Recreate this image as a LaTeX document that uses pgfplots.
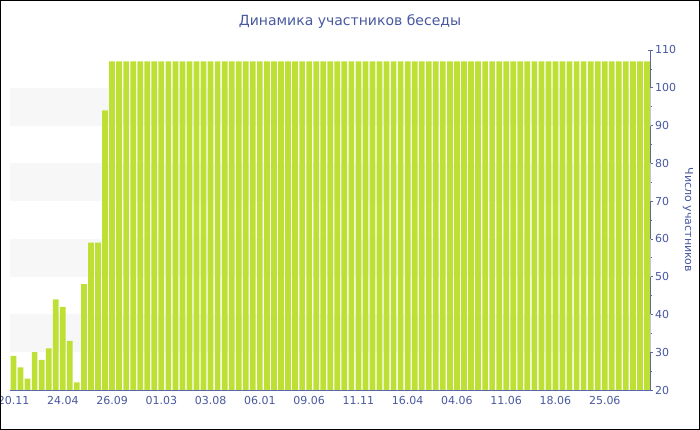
\documentclass[border=0pt]{standalone}
\usepackage{fontspec}
\setmainfont{DejaVu Sans}
\usepackage{pgfplots}
\usepackage{pgfplotstable}
\pgfplotsset{compat=1.18}
\definecolor{txt}{RGB}{72,88,160}
\definecolor{axc}{RGB}{88,104,170}
\definecolor{barc}{RGB}{190,224,52}
\definecolor{band}{RGB}{247,247,247}
\pgfplotstableread{
y
29
26
23
30
28
31
44
42
33
22
48
59
59
94
107
107
107
107
107
107
107
107
107
107
107
107
107
107
107
107
107
107
107
107
107
107
107
107
107
107
107
107
107
107
107
107
107
107
107
107
107
107
107
107
107
107
107
107
107
107
107
107
107
107
107
107
107
107
107
107
107
107
107
107
107
107
107
107
107
107
107
107
107
107
107
107
107
107
107
107
107
}\datatable
\begin{document}
\begin{tikzpicture}[x=1pt,y=1pt]
\useasboundingbox (0,0) rectangle (700,430);
\begin{axis}[
 at={(10pt,40pt)}, anchor=south west,
 scale only axis, width=640.5pt, height=340pt,
 xmin=-0.5, xmax=90.5, ymin=20, ymax=110,
 axis x line*=bottom, axis y line*=right,
 axis line style={draw=axc, line width=0.8pt, -},
 xtick={0,7,...,84},
 xticklabels={20.11,24.04,26.09,01.03,03.08,06.01,09.06,11.11,16.04,04.06,11.06,18.06,25.06},
 ytick={20,30,...,110},
 minor ytick={25,35,...,105},
 tick style={draw=axc, line width=0.6pt},
 x tick style={/pgfplots/major tick length=3pt},
 y tick style={/pgfplots/major tick length=5pt},
 minor tick length=3pt,
 tick align=center,
 ticklabel style={text=txt, font=\fontsize{11}{13}\selectfont},
 /pgf/number format/assume math mode=true,
 xticklabel style={yshift=-1pt},
 yticklabel style={xshift=-1pt},
 ylabel={Число участников},
 ylabel style={at={(axis description cs:1.0585,0.5)}, anchor=center, rotate=180, text=txt, font=\fontsize{11}{13}\selectfont},
 clip=true,
]
\fill[band] (axis cs:-0.5,90) rectangle (axis cs:90.5,100);
\fill[band] (axis cs:-0.5,70) rectangle (axis cs:90.5,80);
\fill[band] (axis cs:-0.5,50) rectangle (axis cs:90.5,60);
\fill[band] (axis cs:-0.5,30) rectangle (axis cs:90.5,40);
\addplot[ybar, bar width=0.81, fill=barc, draw=none] table[x expr=\coordindex, y=y] {\datatable};
\end{axis}
\node[text=txt, font=\fontsize{14}{16}\selectfont] at (350,408) {Динамика участников беседы};
\draw[black, line width=1pt] (0.5,0.5) rectangle (699.5,429.5);
\end{tikzpicture}
\end{document}
